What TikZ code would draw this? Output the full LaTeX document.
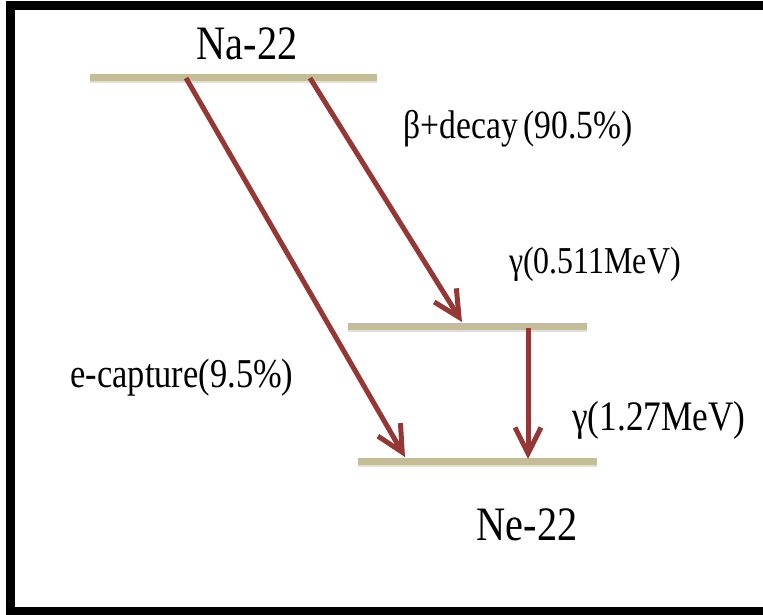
\documentclass[tikz,border=0pt]{standalone}
\usepackage{fontspec}
\setmainfont{Liberation Serif}
\newfontfamily\tnr{Liberation Serif}
\usetikzlibrary{arrows.meta}
\definecolor{leveltan}{RGB}{196,189,151}
\definecolor{decayred}{RGB}{149,55,53}
\tikzset{
  level/.style={draw=leveltan, line width=7pt},
  levelshadow/.style={draw=black!35, opacity=0.35, line width=5pt},
  decay/.style={draw=decayred, line width=5pt, -{Straight Barb[length=26pt,width=26pt]}},
  frame/.style={draw=black, line width=9pt},
  lbl/.style={anchor=base, inner sep=0pt, outer sep=0pt}
}
\newcommand{\sq}[2]{\scalebox{0.84}[1]{\tnr\fontsize{#1}{#1}\selectfont #2}}
\begin{document}
\begin{tikzpicture}[x=1pt, y=-1pt]
\useasboundingbox (0,0) rectangle (763,615);
\fill[white] (0,0) rectangle (763,615);
% frame (right side lies outside the picture)
\draw[frame] (763,6) -- (10,6) -- (10,611) -- (763,611);

% level end points
\coordinate (naL) at (90,78);  \coordinate (naR) at (377,78);
\coordinate (mdL) at (348,326); \coordinate (mdR) at (587,326);
\coordinate (neL) at (358,461); \coordinate (neR) at (597,461);

% shadows
\draw[levelshadow] ([yshift=-3pt]naL) -- ([yshift=-3pt]naR);
\draw[levelshadow] ([yshift=-3pt]mdL) -- ([yshift=-3pt]mdR);
\draw[levelshadow] ([yshift=-3pt]neL) -- ([yshift=-3pt]neR);
% levels
\draw[level] (naL) -- (naR);
\draw[level] (mdL) -- (mdR);
\draw[level] (neL) -- (neR);

% arrow end points
\coordinate (ecS) at (186,78);  \coordinate (ecE) at (405,457);
\coordinate (bpS) at (310,78);  \coordinate (bpE) at (462,322);
\coordinate (gS) at (528,328);  \coordinate (gE) at (528,459);

\draw[decay] (ecS) -- (ecE);
\draw[decay] (bpS) -- (bpE);
\draw[decay] (gS) -- (gE);

% labels
\node[lbl] (na) at (247,60) {\sq{48}{Na-22}};
\node[lbl] (bp) at (518,139) {\sq{40}{β+decay\,(90.5\%)}};
\node[lbl] (g1) at (595,273) {\sq{38}{γ(0.511MeV)}};
\node[lbl] (g2) at (659,430) {\sq{42}{γ(1.27MeV)}};
\node[lbl] (ec) at (182,387) {\sq{41}{e-capture(9.5\%)}};
\node[lbl] (ne) at (527,540) {\sq{48}{Ne-22}};
\end{tikzpicture}
\end{document}
